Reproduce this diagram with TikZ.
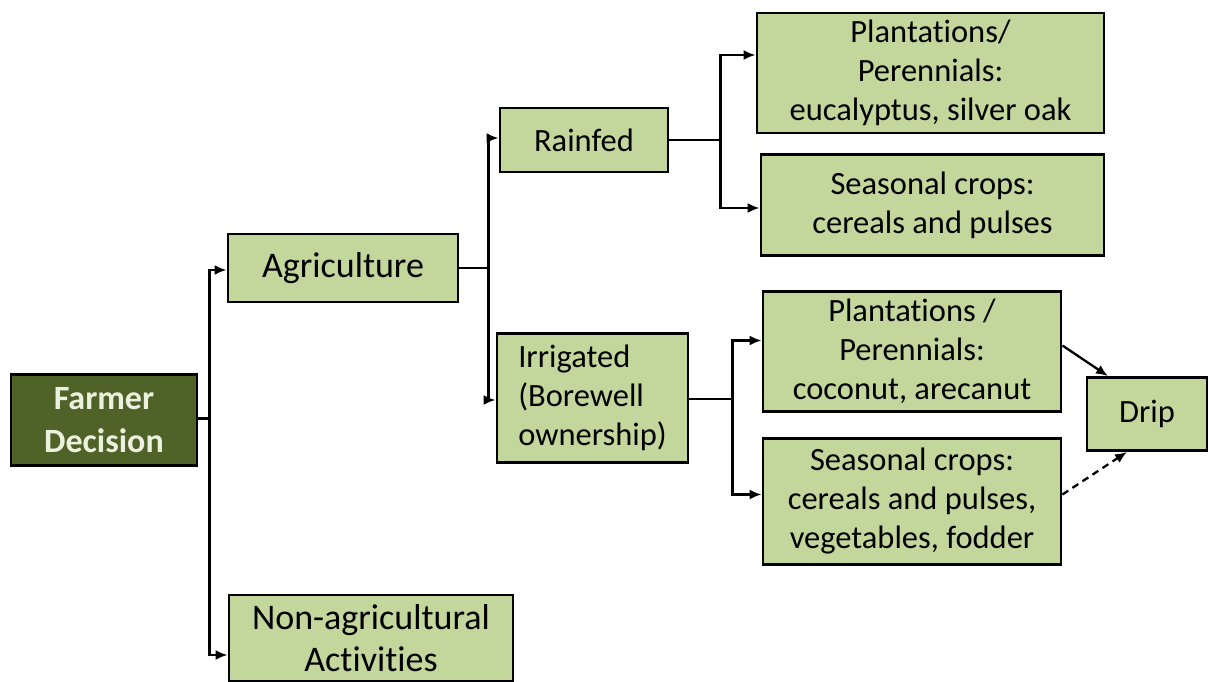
\documentclass[tikz,border=0pt]{standalone}
\usepackage{fontspec}
\setmainfont{Carlito}[RawFeature=-liga]
\usetikzlibrary{arrows.meta}
\definecolor{boxgreen}{HTML}{C3D69B}
\definecolor{darkgreen}{HTML}{4F6228}
\definecolor{lighttext}{HTML}{EBF1DE}
\begin{document}
\begin{tikzpicture}[x=1pt,y=-1pt,
  box/.style={draw=black, line width=2.8pt, fill=boxgreen, align=center, inner sep=2pt,
    font=\fontsize{32.5}{39}\selectfont},
  bigbox/.style={box, font=\fontsize{36}{42}\selectfont},
  arr/.style={line width=2.3pt, -{Latex[length=12pt,width=10pt]}},
  ln/.style={line width=2.3pt}]
\useasboundingbox (0,0) rectangle (1209,682);
\node[box, fill=darkgreen, text=lighttext, font=\fontsize{34}{43}\selectfont\bfseries,
  minimum width=186, minimum height=91] (farmer) at (104,420) {Farmer\\Decision};
\node[bigbox, minimum width=230, minimum height=68] (agri) at (343,268) {Agriculture};
\node[bigbox, minimum width=284, minimum height=86] (nonag) at (371,638) {Non-agricultural\\Activities};
\node[box, minimum width=168, minimum height=64] (rain) at (584,140) {Rainfed};
\node[box, align=left, minimum width=191, minimum height=129] (irr) at (592.5,398) {Irrigated\\(Borewell\\ownership)};
\node[box, minimum width=347, minimum height=120] (pp1) at (930.5,73) {Plantations/\\Perennials:\\eucalyptus, silver oak};
\node[box, minimum width=343, minimum height=101] (sc1) at (932.5,205) {Seasonal crops:\\cereals and pulses};
\node[box, minimum width=298, minimum height=120] (pp2) at (912,351.5) {Plantations /\\Perennials:\\coconut, arecanut};
\node[box, minimum width=298, minimum height=126] (sc2) at (912,501.5) {Seasonal crops:\\cereals and pulses,\\vegetables, fodder};
\node[box, minimum width=120, minimum height=73] (drip) at (1147,414) {Drip};
% farmer branches
\draw[arr] ([yshift=1.5pt]farmer.east) -- ++(11,0) |- ([yshift=-2pt]agri.west);
\draw[arr] ([yshift=1.5pt]farmer.east) -- ++(11,0) |- ([yshift=-17pt]nonag.west);
% agriculture branches
\draw[arr] (agri.east) -- ++(29,0) |- ([yshift=2pt]rain.west);
\draw[arr] (agri.east) -- ++(29,0) |- ([yshift=-2pt]irr.west);
% rainfed branches
\draw[arr] (rain.east) -- ++(51,0) |- ([yshift=18pt]pp1.west);
\draw[arr] (rain.east) -- ++(51,0) |- ([yshift=-3pt]sc1.west);
% irrigated branches
\draw[arr] ([yshift=-1pt]irr.east) -- ++(43,0) |- ([yshift=11pt]pp2.west);
\draw[arr] ([yshift=-1pt]irr.east) -- ++(43,0) |- ([yshift=7pt]sc2.west);
% drip
\draw[arr] ([yshift=6pt]pp2.east) -- ([xshift=-39pt]drip.north);
\draw[arr, dash pattern=on 7pt off 5pt] ([yshift=7pt]sc2.east) -- ([xshift=-20pt]drip.south);
\end{tikzpicture}
\end{document}
